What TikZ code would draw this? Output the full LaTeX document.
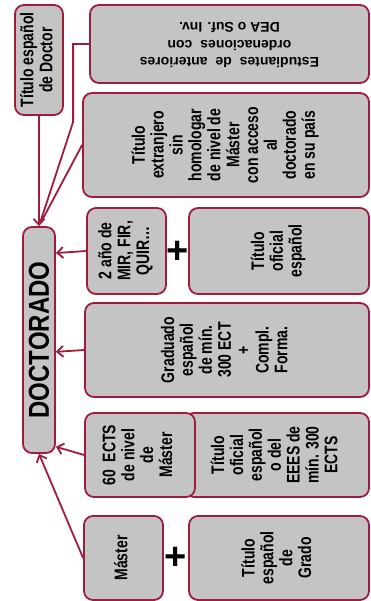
\documentclass[tikz,border=0pt]{standalone}
\usepackage{fontspec}
\setmainfont{Liberation Sans}
\usepackage{graphicx}
\usetikzlibrary{arrows.meta}
\definecolor{granate}{RGB}{160,28,62}
\definecolor{gris}{RGB}{196,196,196}
\newcommand{\vtxt}[1]{\rotatebox{90}{\scalebox{1}[1.3]{\begin{tabular}{@{}c@{}}#1\end{tabular}}}}
\newcommand{\utxt}[1]{\rotatebox{180}{\fontsize{14}{17.5}\selectfont\begin{tabular}{@{}c@{}}#1\end{tabular}}}

\begin{document}
\begin{tikzpicture}[x=1pt,y=-1pt,
	caja/.style={draw=granate,fill=gris,line width=1.8pt,rounded corners=9pt,inner sep=0pt,
		font=\fontsize{14}{14.5}\selectfont\bfseries},
	linea/.style={draw=granate,line width=1.8pt},
	flecha/.style={linea,-{Straight Barb[length=6pt,width=11pt]}},
	mas/.style={font=\fontsize{38}{38}\selectfont\bfseries,inner sep=0pt}]
	\useasboundingbox (0,0) rectangle (371,601);
	\node[caja,minimum width=48pt,minimum height=110pt] (doctor) at (39,60) {\vtxt{Título español\\de Doctor}};
	\node[caja,minimum width=279pt,minimum height=78pt] (dea) at (229.5,44) {\utxt{Estudiantes\hspace{4pt} de\hspace{4pt} anteriores\\ordenaciones\hspace{4pt} con\\DEA o Suf. Inv.}};
	\node[caja,minimum width=286pt,minimum height=104pt] (ext) at (226,145) {\vtxt{Título\\extranjero\\sin\\homologar\\de nivel de\\Máster\\con acceso\\al\\doctorado\\en su país}};
	\node[caja,minimum width=32pt,minimum height=226pt,font=\fontsize{24}{28}\selectfont\bfseries] (doct) at (39,340) {\rotatebox{90}{\scalebox{1}[1.2]{DOCTORADO}}};
	\node[caja,minimum width=79pt,minimum height=86pt] (mir) at (126.5,251) {\vtxt{2 año de\\MIR, FIR,\\QUIR…}};
	\node[mas] (mas1) at (178,252) {+};
	\node[caja,minimum width=180pt,minimum height=86pt] (ofic) at (279,251) {\vtxt{Título\\oficial\\español}};
	\node[caja,minimum width=284pt,minimum height=94pt] (grad) at (227,350) {\vtxt{Graduado\\español\\de mín.\\300 ECT\\+\\Compl.\\Forma.}};
	\node[caja,minimum width=184pt,minimum height=84pt] (eees) at (277,455) {\vtxt{Título\\oficial\\español\\o del\\EEES de\\mín. 300\\ECTS}};
	\node[caja,minimum width=110pt,minimum height=84pt] (ects) at (140,455) {\vtxt{60\ \ ECTS\\de nivel\\de\\Máster}};
	\node[caja,minimum width=79pt,minimum height=84pt] (master) at (123.5,558) {\vtxt{Máster}};
	\node[mas] (mas2) at (176,558) {+};
	\node[caja,minimum width=180pt,minimum height=84pt] (grado) at (279,558) {\vtxt{Título\\español\\de\\Grado}};
	\draw[flecha] (doctor.south) -- (doct.north);
	\draw[linea,shorten >=4pt] (dea.west) -- ++(-16,0) -- ++(0,78) -- (doct.north);
	\draw[linea,shorten >=4pt] (ext.west) -- (doct.north);
	\draw[flecha] (mir.west) -- (doct.79);
	\draw[flecha] (grad.west) -- (doct.-35);
	\draw[flecha] (ects.west) -- (doct.-81);
	\draw[flecha] (master.west) -- (doct.south);
\end{tikzpicture}
\end{document}
